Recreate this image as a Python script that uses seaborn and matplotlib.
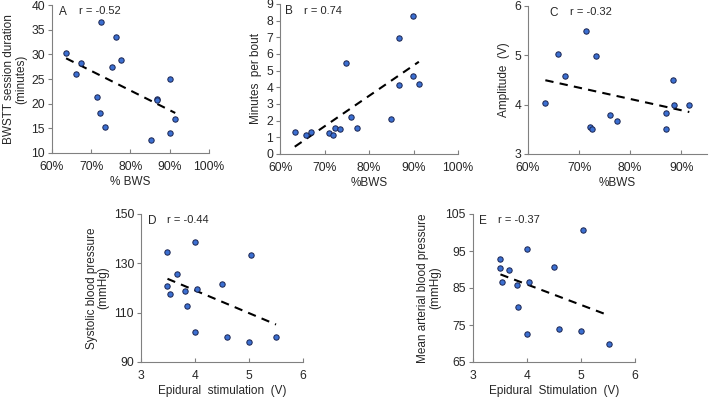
import matplotlib
matplotlib.use("Agg")
import pandas as pd
import matplotlib.pyplot as plt
import seaborn as sns
from matplotlib.ticker import PercentFormatter

# --- data ---
bws_a = [63.6, 67.3, 66.1, 72.5, 76.2, 75.2, 77.5, 71.4, 72.3, 73.6, 86.8, 86.8, 90.1, 90.1, 91.4, 85.3]
duration = [30.2, 28.2, 26.1, 36.5, 33.5, 27.5, 28.9, 21.3, 18.2, 15.3, 21.0, 20.7, 25.0, 14.1, 16.9, 12.6]

bws_b = [63.3, 65.9, 67.0, 71.0, 72.0, 72.4, 73.4, 74.9, 75.9, 77.2, 84.9, 86.7, 86.7, 89.9, 89.9, 91.2]
min_per_bout = [1.30, 1.16, 1.35, 1.25, 1.12, 1.57, 1.53, 5.48, 2.23, 1.59, 2.09, 6.95, 4.12, 8.31, 4.68, 4.18]

bws_c = [63.4, 65.9, 67.2, 71.3, 72.2, 72.6, 73.4, 76.0, 77.5, 87.0, 87.0, 88.5, 88.6, 91.6]
amplitude = [4.03, 5.03, 4.59, 5.50, 3.54, 3.50, 4.99, 3.80, 3.66, 3.84, 3.50, 4.51, 4.00, 4.00]

stim_d = [3.49, 4.00, 5.03, 3.66, 3.49, 3.53, 3.81, 4.03, 4.50, 3.85, 4.00, 4.59, 5.00, 5.50]
systolic = [134.4, 138.8, 133.5, 125.6, 120.7, 117.7, 118.7, 119.5, 121.6, 112.9, 102.0, 100.1, 98.0, 100.1]

stim_e = [3.51, 3.51, 3.67, 3.54, 3.81, 4.01, 4.04, 4.50, 5.04, 4.01, 4.60, 5.00, 5.51, 3.84]
mean_bp = [92.9, 90.3, 90.0, 86.7, 85.7, 95.5, 86.7, 90.8, 100.7, 72.7, 74.0, 73.4, 70.0, 79.8]

sns.set_theme(style="ticks")
plt.rcParams['font.family'] = ['Liberation Sans', 'DejaVu Sans']

fig = plt.figure(figsize=(7.09, 4.0), dpi=100)

panels = [
    # x, y, rect, xlim, ylim, yticks, xticks, xlabel, ylabel, letter, r, letter_x, r_x, percent
    (bws_a, duration, [0.0733, 0.6175, 0.2215, 0.37], (60, 100), (10, 40), range(10, 41, 5),
     range(60, 101, 10), '% BWS', 'BWSTT session duration\n(minutes)', 'A', 'r = -0.52', 0.045, 0.17, True),
    (bws_b, min_per_bout, [0.395, 0.615, 0.251, 0.375], (60, 100), (0, 9), range(0, 10),
     range(60, 101, 10), '%BWS', 'Minutes  per bout', 'B', 'r = 0.74', 0.03, 0.135, True),
    (bws_c, amplitude, [0.7447, 0.615, 0.252, 0.37], (60, 95), (3, 6), range(3, 7),
     range(60, 91, 10), '%BWS', 'Amplitude  (V)', 'C', 'r = -0.32', 0.12, 0.235, True),
    (stim_d, systolic, [0.1989, 0.095, 0.2285, 0.37], (3, 6), (90, 150), range(90, 151, 20),
     range(3, 7), 'Epidural  stimulation  (V)', 'Systolic blood pressure\n(mmHg)', 'D', 'r = -0.44', 0.04, 0.16, False),
    (stim_e, mean_bp, [0.667, 0.095, 0.2286, 0.37], (3, 6), (65, 105), range(65, 106, 10),
     range(3, 7), 'Epidural  Stimulation  (V)', 'Mean arterial blood pressure\n(mmHg)', 'E', 'r = -0.37', 0.04, 0.155, False),
]

for (xs, ys, rect, xlim, ylim, yticks, xticks, xlabel, ylabel,
     letter, rtxt, lx, rx, pct) in panels:
    ax = fig.add_axes(rect)
    df = pd.DataFrame({'x': xs, 'y': ys})
    sns.regplot(data=df, x='x', y='y', ax=ax, scatter=False, ci=None, truncate=True,
                line_kws=dict(color='black', linestyle=(0, (4, 3)), linewidth=1.5))
    sns.scatterplot(data=df, x='x', y='y', ax=ax, s=15, color='#3b6fd1',
                    edgecolor='#1a2450', linewidth=0.7, zorder=3)
    ax.set_xlim(*xlim)
    ax.set_ylim(*ylim)
    ax.set_xticks(list(xticks))
    ax.set_yticks(list(yticks))
    if pct:
        ax.xaxis.set_major_formatter(PercentFormatter(decimals=0))
    ax.set_xlabel(xlabel, fontsize=8.5, labelpad=2)
    ax.set_ylabel(ylabel, fontsize=8.5, labelpad=3, linespacing=1.0)
    ax.tick_params(labelsize=8.7, length=3, width=0.8, color='#808080', pad=2)
    ax.tick_params(axis='x', direction='in', pad=6)
    for side in ['top', 'right']:
        ax.spines[side].set_visible(False)
    for side in ['left', 'bottom']:
        ax.spines[side].set_color('#808080')
        ax.spines[side].set_linewidth(0.8)
    ax.text(lx, 0.99, letter, transform=ax.transAxes, va='top', ha='left', fontsize=8.5)
    ax.text(rx, 0.99, rtxt, transform=ax.transAxes, va='top', ha='left', fontsize=8)

fig.savefig('out.png', dpi=100)
